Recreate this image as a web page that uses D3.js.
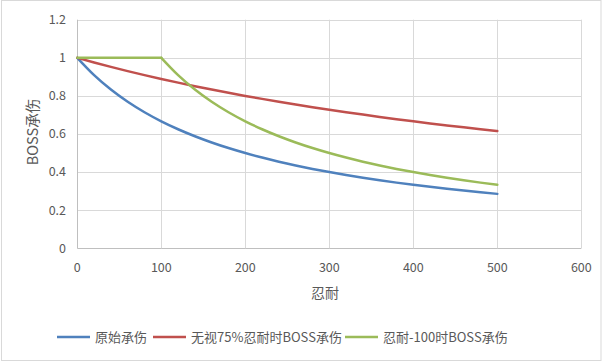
<!DOCTYPE html>
<html><head><meta charset="utf-8">
<script src="https://cdn.jsdelivr.net/npm/d3@7"></script>
<style>body{margin:0;background:#fff}svg{display:block}</style>
</head><body>
<svg id="c" width="602" height="362"></svg>
<script>
const xValues = [0,20,40,60,80,100,120,140,160,180,200,220,240,260,280,300,320,340,360,380,400,420,440,460,480,500];
const original = [1,0.9091,0.8333,0.7692,0.7143,0.6667,0.625,0.5882,0.5556,0.5263,0.5,0.4762,0.4545,0.4348,0.4167,0.4,0.3846,0.3704,0.3571,0.3448,0.3333,0.3226,0.3125,0.3030,0.2941,0.2857];
const ignore75 = [1,0.9756,0.9524,0.9302,0.9091,0.8889,0.8696,0.8511,0.8333,0.8163,0.8,0.7843,0.7692,0.7547,0.7407,0.7273,0.7143,0.7018,0.6897,0.6780,0.6667,0.6557,0.6452,0.6349,0.625,0.6154];
const minus100 = [1,1,1,1,1,1,0.9091,0.8333,0.7692,0.7143,0.6667,0.625,0.5882,0.5556,0.5263,0.5,0.4762,0.4545,0.4348,0.4167,0.4,0.3846,0.3704,0.3571,0.3448,0.3333];
const seriesNames = ["原始承伤","无视75%忍耐时BOSS承伤","忍耐-100时BOSS承伤"];
const seriesColors = ["#4F81BD","#C0504D","#9BBB59"];
const xTicks = [0,100,200,300,400,500,600];
const yTicks = [0,0.2,0.4,0.6,0.8,1,1.2];
const xTitle = "忍耐", yTitle = "BOSS承伤";

const svg = d3.select("#c");
const font = "'Noto Sans CJK SC', 'Noto Sans', sans-serif";
svg.append("rect").attr("x",1.5).attr("y",0.5).attr("width",599.5).attr("height",360)
  .attr("fill","#fff").attr("stroke","#D9D9D9");

const x = d3.scaleLinear().domain([0,600]).range([77.3,581.3]);
const y = d3.scaleLinear().domain([0,1.2]).range([248.3,19.7]);

const g = svg.append("g");
g.selectAll(".hg").data(yTicks).join("line")
  .attr("x1",x(0)).attr("x2",x(600))
  .attr("y1",d=>Math.round(y(d))+0.5).attr("y2",d=>Math.round(y(d))+0.5)
  .attr("stroke",d=>d===0?"#BFBFBF":"#D9D9D9");
g.selectAll(".vg").data(xTicks).join("line")
  .attr("y1",y(0)).attr("y2",y(1.2))
  .attr("x1",d=>Math.round(x(d))+0.5).attr("x2",d=>Math.round(x(d))+0.5)
  .attr("stroke",d=>d===0?"#BFBFBF":"#D9D9D9");

g.selectAll(".yl").data(yTicks).join("text")
  .attr("x",66).attr("y",d=>y(d)).attr("dy","0.35em").attr("text-anchor","end")
  .attr("font-family",font).attr("font-size",12.5).attr("fill","#595959")
  .text(d=>String(d));
g.selectAll(".xl").data(xTicks).join("text")
  .attr("x",d=>x(d)).attr("y",271.5).attr("text-anchor","middle")
  .attr("font-family",font).attr("font-size",12.5).attr("fill","#595959")
  .text(d=>String(d));

svg.append("text").attr("x",325).attr("y",298).attr("text-anchor","middle")
  .attr("font-family",font).attr("font-size",14).attr("fill","#595959").text(xTitle);
svg.append("text").attr("transform","translate(38,132) rotate(-90)").attr("text-anchor","middle")
  .attr("font-family",font).attr("font-size",14.5).attr("fill","#595959").text(yTitle);

const pts = s => s.map((v,i)=>[xValues[i], v]);
const line = d3.line().x(d=>x(d[0])).y(d=>y(d[1])).curve(d3.curveMonotoneX);
const drawPath = (p, color) => svg.append("path").datum(p).attr("d",line).attr("fill","none")
  .attr("stroke",color).attr("stroke-width",2.5).attr("stroke-linejoin","round").attr("stroke-linecap","round");
drawPath(pts(original), seriesColors[0]);
drawPath(pts(ignore75), seriesColors[1]);
const gp = pts(minus100);
const k = xValues.indexOf(100);
drawPath(gp.slice(0,k+1), seriesColors[2]);
drawPath(gp.slice(k), seriesColors[2]);

const legX = [57,153,345];
seriesNames.forEach((n,i)=>{
  svg.append("line").attr("x1",legX[i]).attr("x2",legX[i]+33).attr("y1",337).attr("y2",337)
    .attr("stroke",seriesColors[i]).attr("stroke-width",2.5);
  svg.append("text").attr("x",legX[i]+38).attr("y",337).attr("dy","0.36em")
    .attr("font-family",font).attr("font-size",13).attr("fill","#595959").text(n);
});
</script>
</body></html>
